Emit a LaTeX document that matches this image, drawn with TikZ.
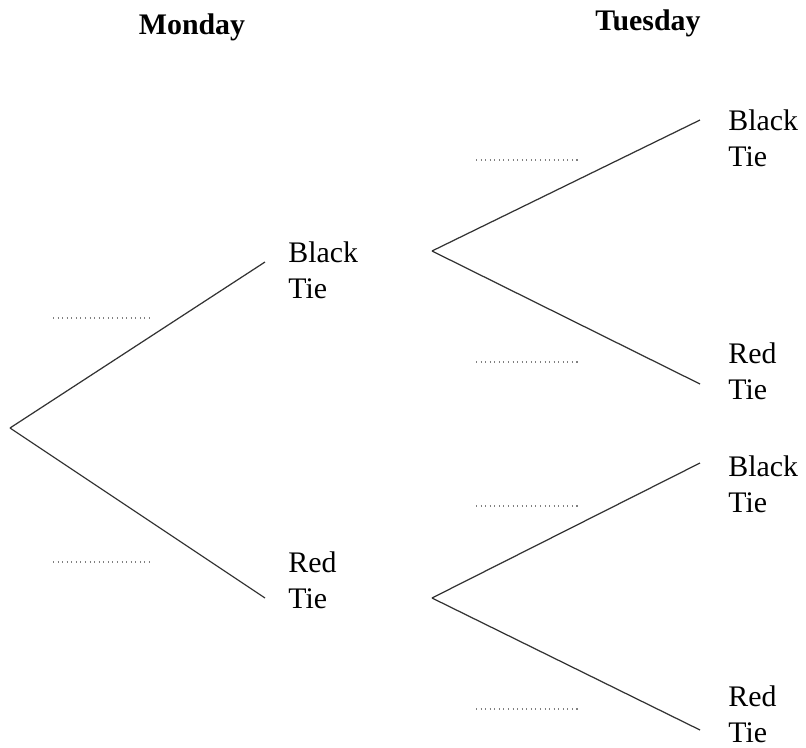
\documentclass[tikz,border=0pt]{standalone}
\usepackage{fontspec}
\setmainfont{Liberation Serif}
\usetikzlibrary{positioning}
\tikzset{%
  branch/.style = { draw=black!80, line width=0.7pt },
  blank/.style = { draw=gray, dotted, line width=0.6pt },
  choice/.style = { anchor=west, align=left, font=\fontsize{17}{20.5}\selectfont, inner sep=0pt },
  day/.style = { font=\fontsize{17}{20}\selectfont\bfseries }
}
\begin{document}
\begin{tikzpicture}[x=0.02cm, y=-0.02cm]
  \useasboundingbox (0,0) rectangle (806,748);

  \node[day] (mon) at (192,27) {Monday};
  \node[day] (tue) at (648,23) {Tuesday};

  % Monday
  \coordinate (root) at (10,428);
  \coordinate (mb) at (265,262);
  \coordinate (mr) at (265,598);
  \node[choice] (mbl) at (288,270) {Black\\Tie};
  \node[choice] (mrl) at (288,580) {Red\\Tie};
  \draw[branch] (root) -- (mb);
  \draw[branch] (root) -- (mr);

  % Tuesday
  \coordinate (tb) at (432,251);
  \coordinate (tr) at (432,598);
  \coordinate (tbb) at (700,120);
  \coordinate (tbr) at (700,384);
  \coordinate (trb) at (700,463);
  \coordinate (trr) at (700,730);
  \node[choice] (tbbl) at (728,138) {Black\\Tie};
  \node[choice] (tbrl) at (728,371) {Red\\Tie};
  \node[choice] (trbl) at (728,484) {Black\\Tie};
  \node[choice] (trrl) at (728,714) {Red\\Tie};
  \draw[branch] (tb) -- (tbb);
  \draw[branch] (tb) -- (tbr);
  \draw[branch] (tr) -- (trb);
  \draw[branch] (tr) -- (trr);

  % blanks
  \foreach \y in {318,562} {
    \draw[blank] (53,\y) -- (150,\y);
  }
  \foreach \y in {160,362,506,709} {
    \draw[blank] (476,\y) -- (578,\y);
  }
\end{tikzpicture}
\end{document}
